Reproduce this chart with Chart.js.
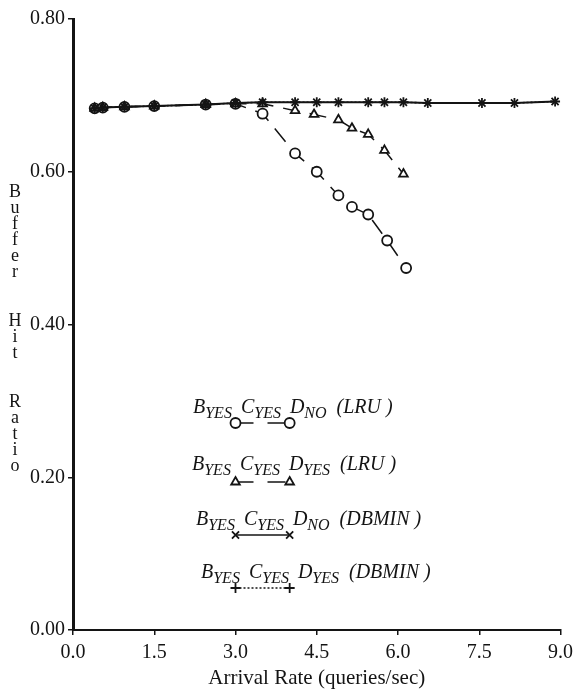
<!DOCTYPE html>
<html>
<head>
<meta charset="utf-8">
<title>Buffer Hit Ratio</title>
<script src="https://cdn.jsdelivr.net/npm/chart.js@4/dist/chart.umd.min.js"></script>
<style>
  html, body { margin: 0; padding: 0; background: #fff; }
  #wrap { width: 579px; height: 692px; }
</style>
</head>
<body>
<div id="wrap"><canvas id="hit" width="579" height="692"></canvas></div>
<script>
// arrival rate (queries/sec) vs buffer hit ratio, four buffer policies
const lruNoX  = [0.4, 0.55, 0.95, 1.5, 2.45, 3.0, 3.5, 4.1, 4.5, 4.9, 5.15, 5.45, 5.8, 6.15]
const lruNoY  = [0.683, 0.684, 0.685, 0.686, 0.688, 0.689, 0.676, 0.624, 0.600, 0.569, 0.554, 0.544, 0.510, 0.474]
const lruYesX = [0.4, 0.55, 0.95, 1.5, 2.45, 3.0, 3.5, 4.1, 4.45, 4.9, 5.15, 5.45, 5.75, 6.1]
const lruYesY = [0.683, 0.684, 0.685, 0.686, 0.688, 0.689, 0.689, 0.680, 0.675, 0.668, 0.657, 0.649, 0.628, 0.597]
const dbminX  = [0.4, 0.55, 0.95, 1.5, 2.45, 3.0, 3.5, 4.1, 4.5, 4.9, 5.45, 5.75, 6.1, 6.55, 7.55, 8.15, 8.9]
const dbminNoY  = [0.683, 0.684, 0.685, 0.686, 0.688, 0.690, 0.691, 0.691, 0.691, 0.691, 0.691, 0.691, 0.691, 0.690, 0.690, 0.690, 0.692]
const dbminYesY = [0.683, 0.684, 0.685, 0.686, 0.688, 0.690, 0.691, 0.691, 0.691, 0.691, 0.691, 0.691, 0.691, 0.690, 0.690, 0.690, 0.692]

const xTicks = [0, 1.5, 3.0, 4.5, 6.0, 7.5, 9.0]
const yTicks = [0, 0.2, 0.4, 0.6, 0.8]

// legend rows: [letter, subscript] pairs plus policy tag
const legendParts = [
  [['B', 'YES'], ['C', 'YES'], ['D', 'NO']],
  [['B', 'YES'], ['C', 'YES'], ['D', 'YES']],
  [['B', 'YES'], ['C', 'YES'], ['D', 'NO']],
  [['B', 'YES'], ['C', 'YES'], ['D', 'YES']],
]
const legendTags = ['(LRU )', '(LRU )', '(DBMIN )', '(DBMIN )']
const yTitle = 'Buffer Hit Ratio'

const INK = '#141414'
const SERIF = '"Liberation Serif", "DejaVu Serif", serif'

const pts = (xs, ys) => xs.map((x, i) => ({ x, y: ys[i] }))

const datasets = [
  { label: 'dbmin-no', data: pts(dbminX, dbminNoY), pointStyle: 'crossRot', pointRadius: 5,
    borderWidth: 2, borderDash: [] },
  { label: 'dbmin-yes', data: pts(dbminX, dbminYesY), pointStyle: 'cross', pointRadius: 5,
    borderWidth: 1.6, borderDash: [2, 2] },
  { label: 'lru-yes', data: pts(lruYesX, lruYesY), pointStyle: 'triangle', pointRadius: 5,
    borderWidth: 1.5, borderDash: [17, 10] },
  { label: 'lru-no', data: pts(lruNoX, lruNoY), pointStyle: 'circle', pointRadius: 5,
    borderWidth: 1.5, borderDash: [17, 10] },
].map(d => ({
  ...d,
  borderColor: INK,
  pointBorderColor: INK,
  pointBackgroundColor: '#fff',
  pointBorderWidth: 1.8,
  showLine: true,
  fill: false,
  tension: 0,
}))

// y title stacked one letter per line, legend drawn inside the plot
const paperText = {
  id: 'paperText',
  afterDraw(chart) {
    const { ctx, scales: { x } } = chart
    ctx.save()
    ctx.fillStyle = INK

    // vertical letters
    ctx.font = `18px ${SERIF}`
    ctx.textAlign = 'center'
    ctx.textBaseline = 'middle'
    let ty = 192
    for (const ch of yTitle) {
      if (ch === ' ') { ty += 33; continue }
      ctx.fillText(ch, 15, ty)
      ty += 16
    }

    // legend rows
    const rowX = [193, 192, 196, 201]
    const rowBase = [413, 470, 525, 578]
    const rowSample = [423, 482, 535, 588]
    const order = [3, 2, 0, 1]
    ctx.textAlign = 'left'
    ctx.textBaseline = 'alphabetic'
    legendParts.forEach((parts, i) => {
      let cx = rowX[i]
      const by = rowBase[i]
      parts.forEach(([big, sub]) => {
        ctx.font = `italic 20px ${SERIF}`
        ctx.fillText(big, cx, by)
        cx += ctx.measureText(big).width
        ctx.font = `italic 16px ${SERIF}`
        ctx.fillText(sub, cx, by + 5)
        cx += ctx.measureText(sub).width + 9
      })
      ctx.font = `italic 20px ${SERIF}`
      ctx.fillText(legendTags[i], cx + 1, by)

      // sample line with its markers
      const ds = chart.data.datasets[order[i]]
      const x0 = x.getPixelForValue(3.0)
      const x1 = x.getPixelForValue(4.0)
      const sy = rowSample[i]
      ctx.strokeStyle = INK
      ctx.lineWidth = 1.5
      ctx.setLineDash(ds.borderDash[0] > 5 ? [18, 14] : ds.borderDash)
      ctx.beginPath()
      ctx.moveTo(x0, sy)
      ctx.lineTo(x1, sy)
      ctx.stroke()
      ctx.setLineDash([])
      ctx.lineWidth = 1.8
      ctx.fillStyle = '#fff'
      for (const px of [x0, x1]) {
        Chart.helpers.drawPoint(ctx, { pointStyle: ds.pointStyle, radius: ds.pointRadius, rotation: 0, borderWidth: 1.8 }, px, sy)
      }
      ctx.fillStyle = INK
    })
    ctx.restore()
  }
}

new Chart(document.getElementById('hit'), {
  type: 'line',
  data: { datasets },
  plugins: [paperText],
  options: {
    responsive: false,
    devicePixelRatio: 1,
    animation: false,
    layout: { padding: { top: 19, right: 15, left: 0, bottom: 0 } },
    plugins: { legend: { display: false }, tooltip: { enabled: false } },
    scales: {
      x: {
        type: 'linear',
        min: 0, max: 9,
        afterBuildTicks: s => { s.ticks = xTicks.map(v => ({ value: v })) },
        afterFit: s => { s.height = 62 },
        ticks: { color: INK, font: { family: SERIF, size: 20 }, padding: 6, maxRotation: 0,
          callback: v => v.toFixed(1) },
        grid: { drawOnChartArea: false, drawTicks: true, tickLength: 5, color: INK, lineWidth: 1.5 },
        border: { display: true, color: INK, width: 2 },
        title: { display: true, text: 'Arrival Rate (queries/sec)', color: INK,
          font: { family: SERIF, size: 21 }, padding: { top: 0, bottom: 1 } },
      },
      y: {
        type: 'linear',
        min: 0, max: 0.8,
        afterBuildTicks: s => { s.ticks = yTicks.map(v => ({ value: v })) },
        afterFit: s => { s.width = 73 },
        ticks: { color: INK, font: { family: SERIF, size: 20 }, padding: 3,
          callback: v => v.toFixed(2) },
        grid: { drawOnChartArea: false, drawTicks: true, tickLength: 5, color: INK, lineWidth: 1.5 },
        border: { display: true, color: INK, width: 3 },
      },
    },
  },
})
</script>
</body>
</html>
